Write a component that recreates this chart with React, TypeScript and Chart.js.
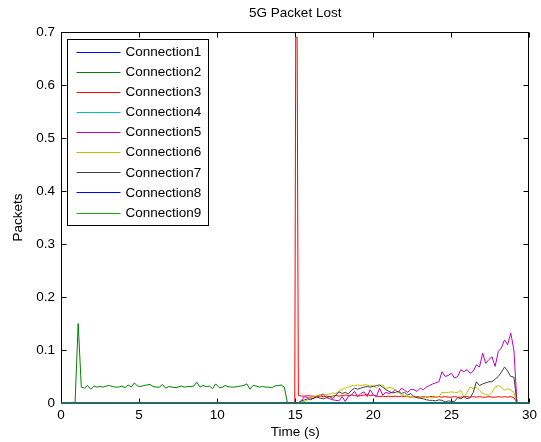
import React, { useEffect, useRef } from 'react';
import { Chart, registerables } from 'chart.js';

Chart.register(...registerables);

const TITLE = '5G Packet Lost';
const X_LABEL = 'Time (s)';
const Y_LABEL = 'Packets';
const X_MIN = 0;
const X_MAX = 30;
const X_STEP = 5;
const Y_MIN = 0;
const Y_MAX = 0.7;
const Y_STEP = 0.1;
const SAMPLE_STEP = 0.2;
const FONT = "'Liberation Sans', Arial, Helvetica, sans-serif";

const connectionNames = [
  'Connection1', 'Connection2', 'Connection3', 'Connection4', 'Connection5',
  'Connection6', 'Connection7', 'Connection8', 'Connection9',
];
const connectionColors = [
  '#0000ff', '#007f00', '#ff0000', '#00bfbf', '#bf00bf',
  '#bfbf00', '#3f3f3f', '#0000ff', '#1a9f1a',
];

// Connection2: samples every 0.2 s starting at 0.9 s
const conn2Start = 0.9;
const conn2Values = [
  0, 0.15,
  0.03, 0.028, 0.033, 0.026, 0.032, 0.03, 0.031, 0.03, 0.032, 0.033,
  0.031, 0.03, 0.03, 0.032, 0.029, 0.034, 0.03, 0.038, 0.032, 0.031,
  0.033, 0.034, 0.035, 0.031, 0.03, 0.03, 0.035, 0.028, 0.031, 0.03,
  0.029, 0.03, 0.032, 0.03, 0.031, 0.031, 0.032, 0.039, 0.03, 0.033,
  0.031, 0.032, 0.027, 0.036, 0.03, 0.029, 0.033, 0.031, 0.03, 0.03,
  0.031, 0.032, 0.033, 0.036, 0.026, 0.033, 0.032, 0.03, 0.031, 0.03,
  0.03, 0.029, 0.032, 0.033, 0.034, 0.03,
  0,
];

// Connection3 spike around 15 s
const conn3SpikeTimes = [14.97, 15.03, 15.12];
const conn3SpikeValues = [0, 0.69, 0.69];

// Late connections: samples every 0.2 s starting at 15.2 s
const lateStart = 15.2;
const conn3Values = [
  0.014, 0.013, 0.013, 0.014, 0.013, 0.013, 0.012, 0.013, 0.012, 0.013,
  0.012, 0.013, 0.014, 0.013, 0.014, 0.015, 0.014, 0.015, 0.014, 0.013,
  0.014, 0.015, 0.016, 0.014, 0.015, 0.013, 0.012, 0.013, 0.012, 0.013,
  0.012, 0.013, 0.012, 0.013, 0.012, 0.012, 0.011, 0.012, 0.012, 0.011,
  0.012, 0.011, 0.012, 0.012, 0.011, 0.012, 0.011, 0.012, 0.011, 0.011,
  0.012, 0.011, 0.011, 0.012, 0.012, 0.011, 0.012, 0.011, 0.012, 0.011,
  0.011, 0.012, 0.011, 0.011, 0.012, 0.011, 0.012, 0.011, 0.012, 0.01,
  0,
];
const conn5Values = [
  0, 0.005, 0.012, 0.01, 0.009, 0.008, 0.014, 0.015, 0.017, 0.01,
  0.008, 0.006, 0.005, 0.004, 0.012, 0.003, 0.012, 0.015, 0.022, 0.012,
  0.018, 0.021, 0.012, 0.025, 0.015, 0.012, 0.028, 0.015, 0.02, 0.018,
  0.02, 0.025, 0.02, 0.028, 0.024, 0.02, 0.026, 0.025, 0.022, 0.028,
  0.025, 0.03, 0.033, 0.036, 0.038, 0.04, 0.059, 0.05, 0.052, 0.056,
  0.047, 0.05, 0.063, 0.059, 0.063, 0.056, 0.06, 0.072, 0.068, 0.094,
  0.075, 0.082, 0.087, 0.069, 0.097, 0.104, 0.119, 0.11, 0.132, 0.1,
  0,
];
const conn6Values = [
  0, 0.002, 0.003, 0.006, 0.01, 0.012, 0.014, 0.015, 0.014, 0.016,
  0.017, 0.019, 0.018, 0.022, 0.026, 0.028, 0.03, 0.032, 0.033, 0.034,
  0.033, 0.034, 0.034, 0.032, 0.034, 0.028, 0.033, 0.034, 0.026, 0.03,
  0.028, 0.025, 0.02, 0.016, 0.014, 0.012, 0.011, 0.012, 0.011, 0.01,
  0.011, 0.012, 0.011, 0.01, 0.011, 0.012, 0.02, 0.02, 0.02, 0.021,
  0.02, 0.02, 0.024, 0.011, 0.02, 0.03, 0.027, 0.03, 0.024, 0.018,
  0.016, 0.014, 0.02, 0.03, 0.033, 0.03, 0.024, 0.027, 0.024, 0.02,
  0,
];
const conn7Values = [
  0, 0.004, 0.006, 0.008, 0.006, 0.01, 0.011, 0.009, 0.008, 0.01,
  0.012, 0.008, 0.015, 0.021, 0.018, 0.02, 0.017, 0.024, 0.028, 0.026,
  0.028, 0.03, 0.031, 0.03, 0.031, 0.033, 0.034, 0.03, 0.025, 0.022,
  0.019, 0.02, 0.022, 0.018, 0.02, 0.015, 0.018, 0.012, 0.01, 0.009,
  0.008, 0.006, 0.005, 0.005, 0.004, 0.006, 0.005, 0.002, 0.004, 0.003,
  0.003, 0.01, 0.008, 0.012, 0.008, 0.01, 0.02, 0.04, 0.033, 0.036,
  0.038, 0.04, 0.04, 0.045, 0.05, 0.058, 0.068, 0.06, 0.05, 0.049,
  0,
];

type Pt = { x: number; y: number };
const grid = (start: number, values: number[]): Pt[] =>
  values.map((v, i) => ({ x: Math.round((start + i * SAMPLE_STEP) * 100) / 100, y: v }));
const pairs = (times: number[], values: number[]): Pt[] =>
  times.map((t, i) => ({ x: t, y: values[i] }));
const withEnds = (pts: Pt[]): Pt[] => [{ x: X_MIN, y: 0 }, ...pts, { x: X_MAX, y: 0 }];

const seriesPoints: Pt[][] = [
  withEnds([]),
  withEnds(grid(conn2Start, conn2Values)),
  withEnds([...pairs(conn3SpikeTimes, conn3SpikeValues), ...grid(lateStart, conn3Values)]),
  withEnds([]),
  withEnds(grid(lateStart, conn5Values)),
  withEnds(grid(lateStart, conn6Values)),
  withEnds(grid(lateStart, conn7Values)),
  withEnds([]),
  withEnds([]),
];

const crisp = (v: number) => Math.round(v) + 0.5;

const matlabPlugin = {
  id: 'matlabLook',
  beforeDatasetsDraw(chart: any) {
    const { ctx, chartArea: a, scales } = chart;
    ctx.save();
    ctx.strokeStyle = '#000';
    ctx.lineWidth = 1;
    const L = crisp(a.left), R = crisp(a.right - 1), T = crisp(a.top), B = crisp(a.bottom);
    ctx.strokeRect(L, T, R - L, B - T);
    const tl = 5;
    ctx.beginPath();
    scales.x.ticks.forEach((t: any) => {
      const px = crisp(scales.x.getPixelForValue(t.value));
      ctx.moveTo(px, B); ctx.lineTo(px, B - tl);
      ctx.moveTo(px, T); ctx.lineTo(px, T + tl);
    });
    scales.y.ticks.forEach((t: any) => {
      const py = crisp(scales.y.getPixelForValue(t.value));
      ctx.moveTo(L, py); ctx.lineTo(L + tl, py);
      ctx.moveTo(R, py); ctx.lineTo(R - tl, py);
    });
    ctx.stroke();
    // title
    ctx.fillStyle = '#000';
    ctx.font = `13.5px ${FONT}`;
    ctx.textAlign = 'center';
    ctx.textBaseline = 'middle';
    ctx.fillText(TITLE, (a.left + a.right) / 2, 13);
    ctx.restore();
  },
  afterDraw(chart: any) {
    const { ctx, chartArea: a } = chart;
    const bx = crisp(a.left + 6), by = crisp(a.top + 7);
    const bw = 141, bh = 186;
    const rowH = 20.1;
    const firstY = a.top + 19.7;
    ctx.save();
    ctx.fillStyle = '#fff';
    ctx.fillRect(bx, by, bw, bh);
    ctx.strokeStyle = '#000';
    ctx.lineWidth = 1;
    ctx.strokeRect(bx, by, bw, bh);
    ctx.font = `13.5px ${FONT}`;
    ctx.textAlign = 'left';
    ctx.textBaseline = 'middle';
    chart.data.datasets.forEach((ds: any, i: number) => {
      const y = firstY + i * rowH;
      ctx.strokeStyle = ds.borderColor;
      ctx.beginPath();
      ctx.moveTo(bx + 9, crisp(y));
      ctx.lineTo(bx + 53, crisp(y));
      ctx.stroke();
      ctx.fillStyle = '#000';
      ctx.fillText(ds.label, bx + 58, y + 0.5);
    });
    ctx.restore();
  },
};

export default function App() {
  const canvasRef = useRef<HTMLCanvasElement>(null);

  useEffect(() => {
    if (!canvasRef.current) return;
    const chart = new Chart(canvasRef.current, {
      type: 'line',
      data: {
        datasets: connectionNames.map((name, i) => ({
          label: name,
          data: seriesPoints[i],
          borderColor: connectionColors[i],
          backgroundColor: connectionColors[i],
          borderWidth: 1,
          pointRadius: 0,
          tension: 0,
          fill: false,
          clip: 2,
          order: connectionNames.length - 1 - i,
        })),
      },
      options: {
        animation: false,
        responsive: true,
        maintainAspectRatio: false,
        devicePixelRatio: 1,
        layout: { padding: { top: 32, left: 0, right: 11, bottom: 0 } },
        plugins: {
          legend: { display: false },
          title: { display: false },
          tooltip: { enabled: false },
        },
        scales: {
          x: {
            type: 'linear',
            min: X_MIN,
            max: X_MAX,
            grid: { display: false, drawTicks: false },
            border: { display: false },
            ticks: {
              stepSize: X_STEP,
              padding: 4,
              color: '#000',
              font: { family: FONT, size: 13.5 },
              maxRotation: 0,
            },
            title: {
              display: true,
              text: X_LABEL,
              color: '#000',
              font: { family: FONT, size: 13.5 },
              padding: { top: 0, bottom: 2 },
            },
            afterFit: (s: any) => { s.height = 39; },
          },
          y: {
            type: 'linear',
            min: Y_MIN,
            max: Y_MAX,
            grid: { display: false, drawTicks: false },
            border: { display: false },
            ticks: {
              stepSize: Y_STEP,
              padding: 6,
              color: '#000',
              font: { family: FONT, size: 13.5 },
              callback: (v: any) => String(Number(Number(v).toFixed(1))),
            },
            title: {
              display: true,
              text: Y_LABEL,
              color: '#000',
              font: { family: FONT, size: 13.5 },
              padding: { top: 10, bottom: 0 },
            },
            afterFit: (s: any) => { s.width = 61; },
          },
        },
      },
      plugins: [matlabPlugin],
    });
    return () => chart.destroy();
  }, []);

  return (
    <div style={{ position: 'fixed', left: 0, top: 0, width: 541, height: 442, background: '#fff' }}>
      <canvas ref={canvasRef} />
    </div>
  );
}
